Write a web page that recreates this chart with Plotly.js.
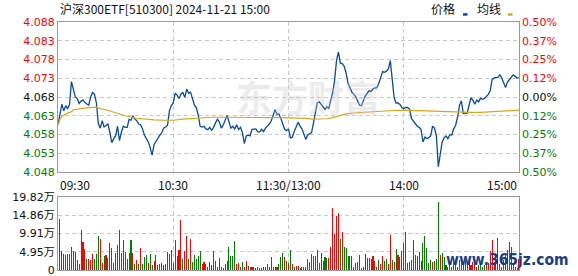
<!DOCTYPE html>
<html><head><meta charset="utf-8">
<script src="https://cdn.plot.ly/plotly-3.0.1.min.js"></script>
<style>html,body{margin:0;padding:0;background:#fff;}#chart{width:578px;height:276px;}</style>
</head><body><div id="chart"></div>
<script>
// ---- data (minute index 0 = 09:30, 120 = 11:30/13:00, 240 = 15:00) ----
const titleText = '沪深300ETF[510300] 2024-11-21 15:00';
const prevClose = 4.068;
const price = [
4.0606,4.0630,4.0661,4.0643,4.0657,4.0648,4.0660,4.0721,4.0703,4.0680,
4.0676,4.0663,4.0669,4.0672,4.0665,4.0661,4.0658,4.0680,4.0692,4.0687,
4.0664,4.0609,4.0597,4.0617,4.0600,4.0604,4.0608,4.0586,4.0558,4.0569,
4.0576,4.0602,4.0564,4.0586,4.0602,4.0599,4.0599,4.0620,4.0618,4.0630,
4.0621,4.0617,4.0608,4.0606,4.0595,4.0578,4.0569,4.0560,4.0545,4.0525,
4.0553,4.0562,4.0569,4.0578,4.0584,4.0597,4.0600,4.0604,4.0643,4.0657,
4.0664,4.0690,4.0685,4.0676,4.0688,4.0692,4.0679,4.0701,4.0690,4.0693,
4.0676,4.0658,4.0652,4.0632,4.0602,4.0600,4.0602,4.0595,4.0593,4.0599,
4.0591,4.0599,4.0611,4.0621,4.0614,4.0597,4.0605,4.0619,4.0631,4.0614,
4.0597,4.0602,4.0595,4.0606,4.0593,4.0599,4.0585,4.0556,4.0576,4.0578,
4.0576,4.0594,4.0594,4.0595,4.0587,4.0587,4.0594,4.0588,4.0597,4.0602,
4.0608,4.0616,4.0632,4.0646,4.0634,4.0635,4.0623,4.0606,4.0594,4.0590,
4.0595,
4.0571,4.0573,4.0588,4.0599,4.0613,4.0602,4.0595,4.0581,4.0567,
4.0579,4.0581,4.0585,4.0611,4.0641,4.0665,4.0667,4.0660,4.0653,4.0647,
4.0654,4.0649,4.0672,4.0692,4.0725,4.0777,4.0800,4.0770,4.0769,4.0762,
4.0744,4.0716,4.0705,4.0693,4.0687,4.0681,4.0669,4.0658,4.0657,4.0672,
4.0683,4.0690,4.0697,4.0695,4.0702,4.0704,4.0705,4.0716,4.0735,4.0748,
4.0746,4.0749,4.0755,4.0777,4.0727,4.0678,4.0664,4.0664,4.0660,4.0652,
4.0649,4.0652,4.0652,4.0648,4.0623,4.0616,4.0609,4.0602,4.0599,4.0593,
4.0560,4.0573,4.0569,4.0571,4.0576,4.0602,4.0597,4.0576,4.0494,4.0530,
4.0560,4.0571,4.0576,4.0569,4.0580,4.0578,4.0595,4.0604,4.0626,4.0657,
4.0670,4.0636,4.0636,4.0637,4.0658,4.0678,4.0671,4.0661,4.0672,4.0667,
4.0677,4.0674,4.0676,4.0681,4.0687,4.0696,4.0727,4.0731,4.0731,4.0732,
4.0739,4.0731,4.0718,4.0705,4.0720,4.0727,4.0732,4.0739,4.0735,4.0731,
4.0731];
const avgMinute = [0,1,2,3,5,7,8,10,15,20,22,25,28,30,35,40,45,50,55,60,65,70,75,80,90,97,105,110,115,120,130,132,135,140,143,145,150,155,160,165,170,175,180,185,190,195,200,205,210,215,220,225,230,235,240];
const avgPrice  = [4.0606,4.0620,4.0628,4.0632,4.0637,4.0641,4.0646,4.0648,4.0651,4.0653,4.0649,4.0646,4.0641,4.0637,4.0630,4.0624,4.0621,4.0619,4.0618,4.0618,4.0621,4.0623,4.0625,4.0626,4.0626,4.0625,4.0625,4.0625,4.0625,4.0625,4.0623,4.0621,4.0621,4.0622,4.0625,4.0628,4.0635,4.0638,4.0640,4.0641,4.0643,4.0644,4.0645,4.0644,4.0643,4.0641,4.0640,4.0639,4.0639,4.0639,4.0639,4.0640,4.0642,4.0643,4.0645];
// volume in 万 per minute, and direction (1 = up/red, -1 = down/green)
const volume = [
0,13.8,5.1,4.3,4.05,4.3,4.2,6.2,5.1,4.8,
2.7,1.5,10.8,7.5,5.7,3.0,3.0,2.7,4.2,3.0,
4.3,9.2,8.4,1.9,3.9,4.05,3.3,7.2,6.0,1.9,
4.5,6.8,10.8,4.5,8.1,5.0,3.0,4.5,8.1,4.5,
1.5,2.7,1.5,5.9,1.5,3.6,4.05,1.8,4.2,1.35,
2.4,4.05,1.35,1.6,1.8,1.35,1.5,4.8,4.2,5.4,
1.8,8.1,3.8,5.4,13.5,3.0,5.1,9.3,3.0,8.4,
2.1,4.05,3.0,3.8,5.1,1.5,2.1,1.5,0.9,2.1,
1.35,5.1,2.4,0.9,3.3,0.9,0.6,1.5,2.4,6.3,
3.9,3.9,7.8,1.5,1.8,0.9,2.1,0.9,2.3,1.2,
0.9,0.9,0.9,0.6,0.9,0.6,0.6,0.9,0.9,1.5,
0.9,3.6,0.9,0.9,0.9,1.5,3.6,4.5,3.6,2.4,
2.0,
5.3,1.5,0.9,1.0,1.1,0.6,0.8,0.8,0.8,
3.0,2.25,4.2,3.8,3.8,5.4,1.9,4.5,2.4,3.6,
3.3,3.3,6.2,16.7,9.7,14.6,15.3,8.4,10.4,6.3,
6.0,3.8,3.8,3.8,0.9,1.8,2.25,4.05,0.6,0.9,
4.3,3.3,3.3,3.0,3.8,2.4,0.9,2.7,1.5,3.8,
2.4,3.0,1.5,9.5,2.7,2.1,5.7,4.05,3.6,5.1,
7.2,10.2,1.8,2.1,2.7,8.1,4.05,3.8,5.0,2.4,
7.2,9.2,5.9,1.8,2.7,2.1,2.4,3.0,18.5,4.05,
4.5,3.6,1.35,0.9,2.0,0.9,1.8,3.0,0.9,2.7,
2.25,2.1,2.7,2.25,1.8,1.35,2.25,1.5,0.9,1.35,
1.5,0.9,1.35,1.35,1.8,5.1,8.1,2.25,4.05,8.6,
1.5,0.9,2.7,4.05,5.4,7.5,6.2,1.35,0.9,0.6,
3.0];
const direction = [
1,-1,1,-1,1,1,-1,1,-1,-1,
1,1,-1,1,1,-1,1,1,1,-1,
-1,-1,1,1,-1,1,1,-1,-1,1,
1,1,-1,-1,1,-1,1,1,-1,1,
-1,1,-1,1,-1,-1,-1,1,-1,-1,
1,-1,1,1,1,-1,1,1,1,1,
-1,1,-1,1,1,-1,1,1,-1,1,
-1,-1,-1,-1,-1,1,1,-1,1,-1,
1,-1,1,1,-1,-1,1,1,-1,-1,
-1,-1,-1,1,1,-1,-1,1,1,-1,
1,1,1,-1,-1,1,1,1,1,-1,
1,1,-1,1,1,-1,-1,-1,1,-1,
1,
-1,1,-1,1,1,-1,-1,-1,-1,
1,-1,1,1,1,1,-1,-1,1,-1,
-1,1,1,1,1,1,1,-1,1,-1,
-1,-1,1,-1,1,-1,-1,-1,1,-1,
1,1,-1,1,1,1,-1,-1,1,1,
-1,-1,1,1,-1,1,-1,1,-1,-1,
-1,1,1,1,1,-1,1,-1,1,-1,
-1,-1,-1,-1,-1,1,-1,-1,-1,1,
-1,-1,-1,1,-1,1,1,1,-1,1,
1,-1,1,1,-1,1,1,1,1,-1,
-1,-1,-1,1,1,1,1,1,1,1,
-1,-1,1,1,1,1,1,-1,-1,1,
1];
const priceTicks = [4.048,4.053,4.058,4.063,4.068,4.073,4.078,4.083,4.088];
const pctLabels  = ['0.50%','0.37%','0.25%','0.12%','0.00%','0.12%','0.25%','0.37%','0.50%'];
const volTickVals = [0,4.955,9.91,14.865,19.82];
const volTickText = ['0','4.95万','9.91万','14.86万','19.82万'];
const timeLabels = ['09:30','10:30','11:30/13:00','14:00','15:00'];
const timeIdx    = [0,60,120,180,240];
const legendNames = ['价格','均线'];

// ---- styling ----
const RED='#ff0000', GREEN='#008000', DARK='#111111';
const BLUE='#0a4c9c', GOLD='#e0a416';
const GRID='#c9c9c9', FRAME='#9a9a9a';
const minute = price.map((_, i) => i);
function tickColor(p){ return p > prevClose + 1e-9 ? RED : (p < prevClose - 1e-9 ? GREEN : DARK); }
const leftText  = priceTicks.map(p => `<span style="color:${tickColor(p)}">${p.toFixed(3)}</span>`);
const rightText = priceTicks.map((p, i) => `<span style="color:${tickColor(p)}">${pctLabels[i]}</span>`);
const barColors = direction.map(d => d > 0 ? RED : GREEN);

// pixel helpers for layout
const W=578, H=276, L=58, R=519, T=22, B=270;
const px = x => (x - L) / (R - L);
const py = y => (B - y) / (B - T);

const traces = [
  {x: minute, y: price, type:'scatter', mode:'lines', line:{color:BLUE, width:1.3}, xaxis:'x', yaxis:'y', hoverinfo:'skip'},
  {x: avgMinute, y: avgPrice, type:'scatter', mode:'lines', line:{color:GOLD, width:1.2}, xaxis:'x', yaxis:'y', hoverinfo:'skip'},
  {x: [0,240], y: [4.068,4.068], type:'scatter', mode:'lines', line:{width:0}, xaxis:'x', yaxis:'y2', hoverinfo:'skip'},
  {x: minute, y: volume, type:'bar', marker:{color: barColors, line:{width:0}}, width:0.55, xaxis:'x2', yaxis:'y3', hoverinfo:'skip'}
];

const tickFont = {family:'DejaVu Sans, Noto Sans CJK SC, sans-serif', size:11, color:DARK};
const axX = {range:[0,240], tickvals:[60,120,180], showticklabels:false, ticks:'', showgrid:true, gridcolor:GRID, griddash:'4px,3px', gridwidth:1,
  showline:true, linecolor:FRAME, linewidth:1, mirror:true, zeroline:false, fixedrange:true};
const priceDomain = [py(172), 1];
const volDomain = [0, py(196.7)];

const annotations = [
  {text:titleText, xref:'paper', yref:'paper', x:0, y:1, xanchor:'left', yanchor:'middle', yshift:14, showarrow:false,
   font:{family:'Noto Sans CJK SC, sans-serif', size:12, color:'#111'}},
  {text:legendNames[0], xref:'paper', yref:'paper', x:px(443), y:py(9), xanchor:'center', yanchor:'middle', showarrow:false,
   font:{family:'Noto Sans CJK SC, sans-serif', size:12, color:'#111'}},
  {text:legendNames[1], xref:'paper', yref:'paper', x:px(489), y:py(9), xanchor:'center', yanchor:'middle', showarrow:false,
   font:{family:'Noto Sans CJK SC, sans-serif', size:12, color:'#111'}},
  {text:'<b>东方财富</b>', xref:'paper', yref:'paper', x:px(308), y:py(96), xanchor:'center', yanchor:'middle', showarrow:false,
   font:{family:'Noto Sans CJK SC, sans-serif', size:36, color:'rgba(200,200,205,0.35)'}},
  {text:'<b>www.365jz.com</b>', xref:'paper', yref:'paper', x:px(571), y:py(260), xanchor:'right', yanchor:'middle', showarrow:false,
   font:{family:'DejaVu Sans Condensed, DejaVu Sans, sans-serif', size:15.5, color:'#1b3d84'}}
];
timeLabels.forEach((lab, i) => {
  annotations.push({text:lab, xref:'x', yref:'paper', x:timeIdx[i], y:py(172), yanchor:'top', yshift:-2,
    xanchor: i === 0 ? 'left' : (i === timeLabels.length - 1 ? 'right' : 'center'), showarrow:false,
    font:{family:'Noto Sans CJK SC, sans-serif', size:12, color:'#111'}});
});

const shapes = [
  {type:'rect', xref:'paper', yref:'paper', x0:px(463), x1:px(467.5), y0:py(15.7), y1:py(13.2), fillcolor:BLUE, line:{width:0}},
  {type:'rect', xref:'paper', yref:'paper', x0:px(508), x1:px(512.5), y0:py(15.7), y1:py(13.2), fillcolor:GOLD, line:{width:0}}
];

const layout = {
  width:W, height:H, margin:{l:L, r:W-R, t:T, b:H-B, pad:0},
  paper_bgcolor:'#fff', plot_bgcolor:'#fff', showlegend:false, bargap:0,
  xaxis: Object.assign({}, axX, {anchor:'y', domain:[0,1]}),
  xaxis2: Object.assign({}, axX, {anchor:'y3', domain:[0,1]}),
  yaxis: {domain:priceDomain, range:[4.048,4.088], tickvals:priceTicks, ticktext:leftText, ticks:'', tickfont:tickFont, ticklabeloverflow:'allow',
    showgrid:true, gridcolor:GRID, griddash:'4px,3px', showline:true, linecolor:FRAME, mirror:true, zeroline:false, fixedrange:true},
  yaxis2: {overlaying:'y', side:'right', anchor:'x', range:[4.048,4.088], tickvals:priceTicks, ticktext:rightText, ticks:'', tickfont:tickFont, ticklabeloverflow:'allow',
    ticklabelstandoff:2, showgrid:false, showline:false, zeroline:false, fixedrange:true},
  yaxis3: {domain:volDomain, anchor:'x2', range:[0,19.82], tickvals:volTickVals, ticktext:volTickText, ticks:'', tickfont:tickFont, ticklabeloverflow:'allow',
    showgrid:true, gridcolor:GRID, griddash:'4px,3px', showline:true, linecolor:FRAME, mirror:true, zeroline:false, fixedrange:true},
  annotations: annotations, shapes: shapes
};
Plotly.newPlot('chart', traces, layout, {staticPlot:true, displayModeBar:false});
</script></body></html>
